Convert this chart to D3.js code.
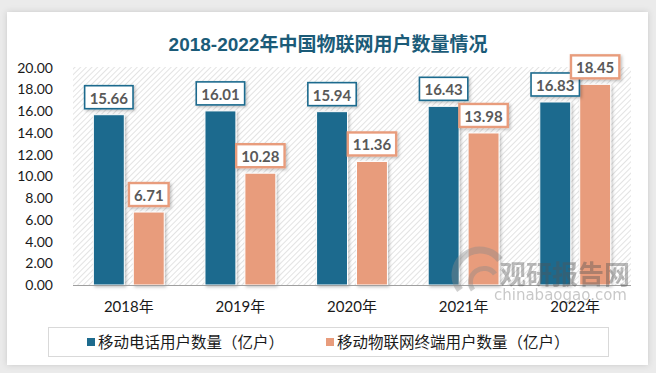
<!DOCTYPE html>
<html>
<head>
<meta charset="utf-8">
<script src="https://cdn.jsdelivr.net/npm/d3@7"></script>
<style>
  body { margin: 0; background: #ebebeb; }
  svg { display: block; }
</style>
</head>
<body>
<script>
// data
var years = ["2018年", "2019年", "2020年", "2021年", "2022年"];
var seriesNames = ["移动电话用户数量（亿户）", "移动物联网终端用户数量（亿户）"];
var mobileUsers = [15.66, 16.01, 15.94, 16.43, 16.83];
var iotUsers = [6.71, 10.28, 11.36, 13.98, 18.45];
var yTicks = [0, 2, 4, 6, 8, 10, 12, 14, 16, 18, 20];
var colors = ["#1d6b8e", "#e89c7c"];

var width = 656, height = 373;
var svg = d3.select("body").append("svg").attr("width", width).attr("height", height);

var defs = svg.append("defs");
var sh = defs.append("filter").attr("id", "shadow").attr("x", "-20%").attr("y", "-20%").attr("width", "150%").attr("height", "150%");
sh.append("feDropShadow").attr("dx", 1.5).attr("dy", 1.5).attr("stdDeviation", 1.5).attr("flood-color", "#000").attr("flood-opacity", 0.25);
var cardSh = defs.append("filter").attr("id", "cardshadow").attr("x", "-5%").attr("y", "-5%").attr("width", "110%").attr("height", "110%");
cardSh.append("feDropShadow").attr("dx", 0).attr("dy", 0).attr("stdDeviation", 3).attr("flood-color", "#000").attr("flood-opacity", 0.15);

var hatch = defs.append("pattern").attr("id", "hatch").attr("patternUnits", "userSpaceOnUse")
    .attr("width", 4).attr("height", 4).attr("patternTransform", "rotate(45)");
hatch.append("rect").attr("width", 4).attr("height", 4).attr("fill", "#fff");
hatch.append("line").attr("x1", 0).attr("y1", 0).attr("x2", 0).attr("y2", 4)
    .attr("stroke", "#d4d4d4").attr("stroke-width", 1.3);

// card
svg.append("rect").attr("x", 7).attr("y", 12).attr("width", 641).attr("height", 353)
    .attr("fill", "#fff").attr("filter", "url(#cardshadow)");

// title
svg.append("text").attr("x", 328).attr("y", 51).attr("text-anchor", "middle")
    .style("font-family", "'Liberation Sans Narrow','Liberation Sans','Noto Sans CJK SC'")
    .style("font-size", "19px").style("font-weight", "bold").style("fill", "#1b5b78")
    .text("2018-2022年中国物联网用户数量情况");

var plotLeft = 73, plotRight = 631, plotTop = 67, plotBottom = 285;

var x0 = d3.scaleBand().domain(years).range([plotLeft, plotRight]);
var x1 = d3.scaleBand().domain([0, 1]).range([0, x0.bandwidth()]).paddingInner(0.225).paddingOuter(0.51);
var y = d3.scaleLinear().domain([0, 20]).range([plotBottom, plotTop + 0.5]);

// hatched plot area
svg.append("rect").attr("x", plotLeft).attr("y", plotTop).attr("width", plotRight - plotLeft)
    .attr("height", plotBottom - plotTop).attr("fill", "url(#hatch)");

// bars
var rows = years.map(function(yr, i) { return { year: yr, vals: [mobileUsers[i], iotUsers[i]] }; });

var groups = svg.selectAll("g.grp").data(rows).enter().append("g").attr("class", "grp")
    .attr("transform", function(d) { return "translate(" + x0(d.year) + ",0)"; });

groups.selectAll("rect.bar").data(function(d) { return d.vals.map(function(v, k) { return { v: v, k: k }; }); })
    .enter().append("rect").attr("class", "bar")
    .attr("x", function(d) { return x1(d.k); })
    .attr("y", function(d) { return y(d.v); })
    .attr("width", x1.bandwidth())
    .attr("height", function(d) { return plotBottom - y(d.v); })
    .attr("fill", function(d) { return colors[d.k]; })
    .attr("stroke", "#fff").attr("stroke-width", 1)
    .attr("filter", "url(#shadow)");

// axis line
svg.append("line").attr("x1", plotLeft).attr("x2", plotRight).attr("y1", plotBottom + 0.5).attr("y2", plotBottom + 0.5)
    .attr("stroke", "#a0a0a0").attr("stroke-width", 1.2);

// watermark (on top, translucent)
var wm = svg.append("g").attr("opacity", 0.4);
wm.append("path").attr("d", "M460,290 A24,24 0 0 1 500,260").attr("fill", "none").attr("stroke", "#8a8a8a").attr("stroke-width", 7);
wm.append("path").attr("d", "M473,290 A13,13 0 0 1 495,274").attr("fill", "none").attr("stroke", "#8a8a8a").attr("stroke-width", 5);
wm.append("text").attr("x", 500).attr("y", 284)
    .style("font-family", "'Noto Sans CJK SC'").style("font-size", "26px").style("font-weight", "bold")
    .style("fill", "#555").text("观研报告网");
wm.append("text").attr("x", 494).attr("y", 300)
    .style("font-family", "'DejaVu Sans','Liberation Sans'").style("font-size", "15px")
    .style("fill", "#777").text("chinabaogao.com");

// value labels
groups.each(function(d) {
    var g = d3.select(this);
    d.vals.forEach(function(v, k) {
        var cx = x1(k) + x1.bandwidth() / 2;
        var txt = g.append("text").attr("x", cx).attr("y", y(v) - 11)
            .attr("text-anchor", "middle")
            .style("font-family", "Lato, 'Open Sans', sans-serif").style("font-size", "15px")
            .style("font-weight", "bold").style("fill", "#595959")
            .text(v.toFixed(2));
        var w = txt.node().getComputedTextLength() + 10;
        g.insert("rect", function() { return txt.node(); })
            .attr("x", cx - w / 2).attr("y", y(v) - 29).attr("width", w).attr("height", 23)
            .attr("fill", "#fff").attr("stroke", colors[k]).attr("stroke-width", k == 0 ? 1.6 : 2.4)
            .attr("filter", "url(#shadow)");
    });
});

// y axis labels
svg.selectAll("text.ytick").data(yTicks).enter().append("text").attr("class", "ytick")
    .attr("x", 53).attr("y", function(d) { return y(d) + 5; }).attr("text-anchor", "end")
    .style("font-family", "Lato, sans-serif").style("font-size", "14px").style("fill", "#1a1a1a")
    .text(function(d) { return d.toFixed(2); });

// x axis labels
svg.selectAll("text.xtick").data(years).enter().append("text").attr("class", "xtick")
    .attr("x", function(d) { return x0(d) + x0.bandwidth() / 2; }).attr("y", 312)
    .attr("text-anchor", "middle")
    .style("font-family", "Lato, 'Noto Sans CJK SC'").style("font-size", "15px").style("fill", "#1a1a1a")
    .text(function(d) { return d; });

// legend
svg.append("rect").attr("x", 48.5).attr("y", 327.5).attr("width", 560).attr("height", 29)
    .attr("fill", "none").attr("stroke", "#d9d9d9").attr("stroke-width", 1);
var legX = [87, 326];
seriesNames.forEach(function(name, k) {
    svg.append("rect").attr("x", legX[k]).attr("y", 338).attr("width", 8).attr("height", 8).attr("fill", colors[k]);
    svg.append("text").attr("x", legX[k] + 11).attr("y", 348)
        .style("font-family", "'Noto Sans CJK SC'").style("font-size", "15.5px").style("fill", "#1a1a1a")
        .text(name);
});
</script>
</body>
</html>
